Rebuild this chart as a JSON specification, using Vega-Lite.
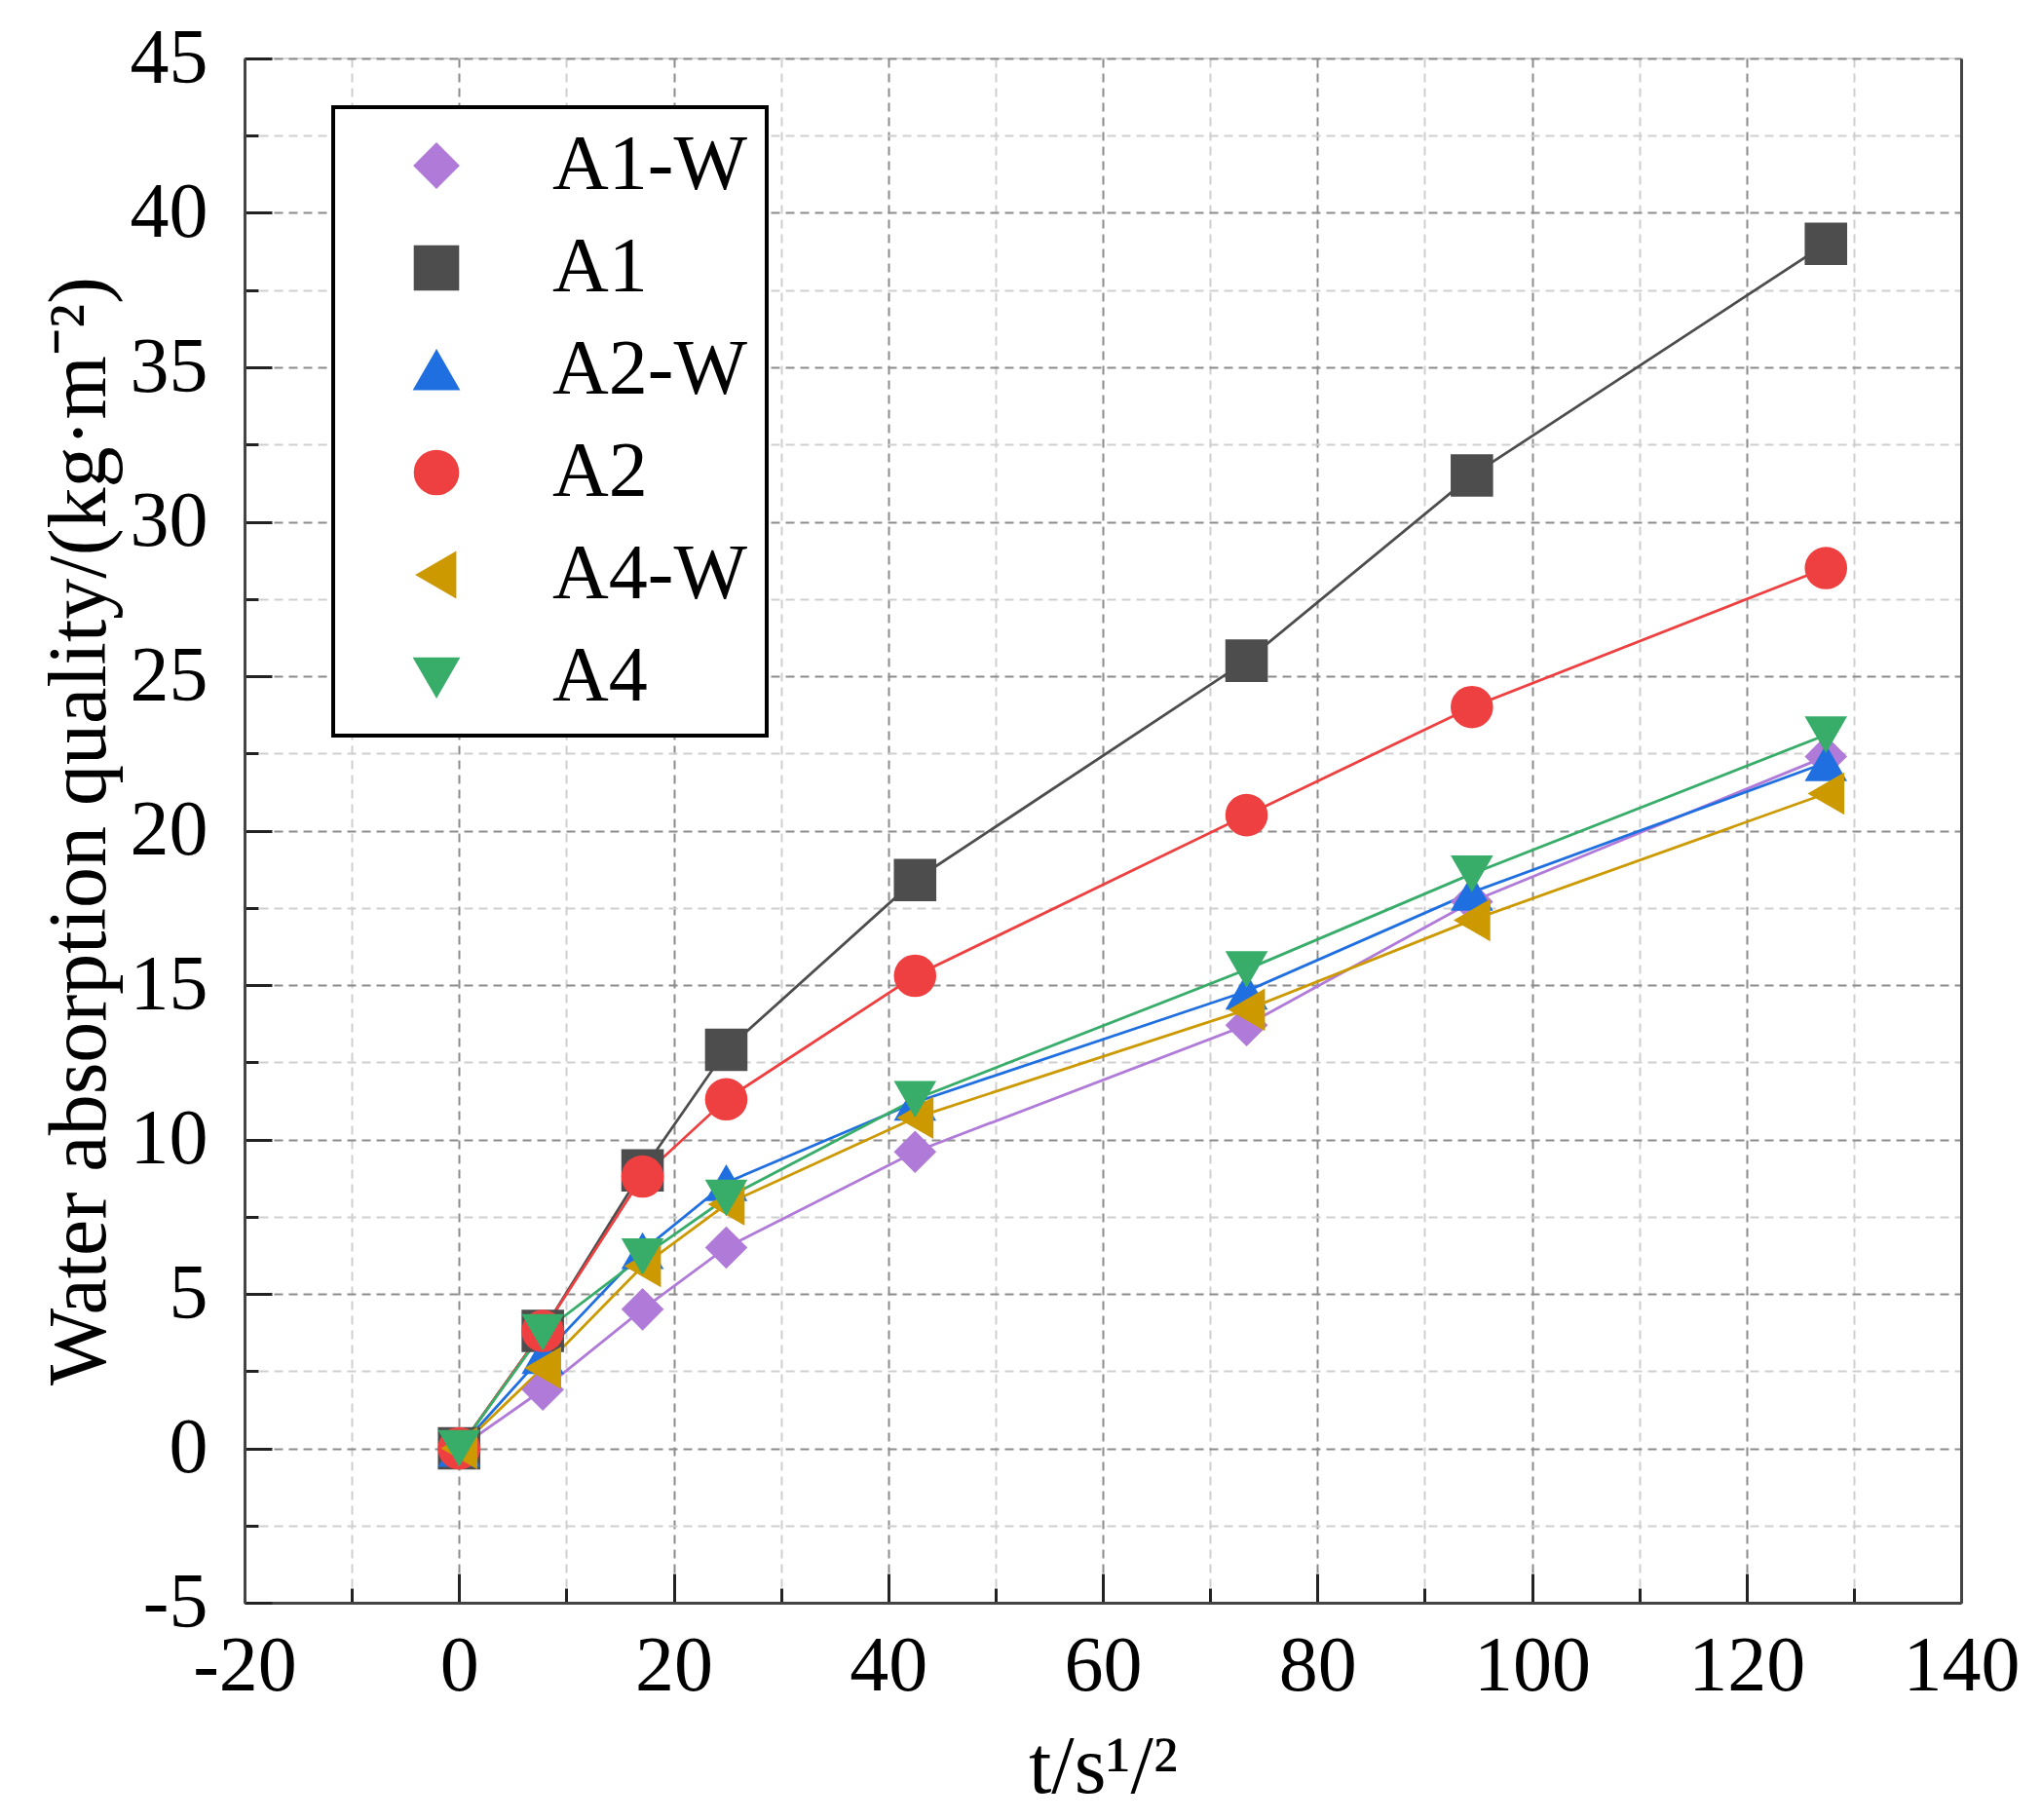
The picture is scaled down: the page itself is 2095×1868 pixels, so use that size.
{
  "$schema": "https://vega.github.io/schema/vega-lite/v6.json",
  "autosize": {"type": "none"},
  "padding": {"left": 251, "top": 60, "right": 82, "bottom": 223},
  "width": 1762,
  "height": 1585,
  "background": "white",
  "config": {
    "view": {"stroke": "#d9d9d9", "strokeWidth": 2},
    "font": "Liberation Serif",
    "axis": {
      "labelFont": "Liberation Serif",
      "labelFontSize": 80,
      "labelColor": "black",
      "titleFont": "Liberation Serif",
      "titleFontSize": 84,
      "titleFontWeight": "normal",
      "titleColor": "black",
      "domainColor": "#444",
      "domainWidth": 3,
      "tickColor": "#222",
      "tickWidth": 3,
      "gridWidth": 2
    },
    "legend": {
      "orient": "none",
      "legendX": 91,
      "legendY": 50,
      "strokeColor": "black",
      "fillColor": "white",
      "padding": 20,
      "symbolSize": 1900,
      "symbolOffset": 46,
      "labelOffset": 79,
      "labelFont": "Liberation Serif",
      "labelFontSize": 80,
      "labelColor": "black",
      "labelLimit": 600,
      "rowPadding": 25,
      "symbolStrokeWidth": 3
    }
  },
  "data": {
    "values": [
      {"series": "A1-W", "t": 0, "q": 0},
      {"series": "A1-W", "t": 7.8, "q": 1.9},
      {"series": "A1-W", "t": 17.1, "q": 4.5},
      {"series": "A1-W", "t": 24.9, "q": 6.5},
      {"series": "A1-W", "t": 42.5, "q": 9.6},
      {"series": "A1-W", "t": 73.4, "q": 13.7},
      {"series": "A1-W", "t": 94.4, "q": 17.7},
      {"series": "A1-W", "t": 127.4, "q": 22.4},
      {"series": "A1", "t": 0, "q": 0},
      {"series": "A1", "t": 7.8, "q": 3.8},
      {"series": "A1", "t": 17.1, "q": 9.0},
      {"series": "A1", "t": 24.9, "q": 12.9},
      {"series": "A1", "t": 42.5, "q": 18.4},
      {"series": "A1", "t": 73.4, "q": 25.5},
      {"series": "A1", "t": 94.4, "q": 31.5},
      {"series": "A1", "t": 127.4, "q": 39.0},
      {"series": "A2-W", "t": 0, "q": 0},
      {"series": "A2-W", "t": 7.8, "q": 3.0},
      {"series": "A2-W", "t": 17.1, "q": 6.4},
      {"series": "A2-W", "t": 24.9, "q": 8.6},
      {"series": "A2-W", "t": 42.5, "q": 11.2},
      {"series": "A2-W", "t": 73.4, "q": 14.8},
      {"series": "A2-W", "t": 94.4, "q": 18.0},
      {"series": "A2-W", "t": 127.4, "q": 22.2},
      {"series": "A2", "t": 0, "q": 0},
      {"series": "A2", "t": 7.8, "q": 3.8},
      {"series": "A2", "t": 17.1, "q": 8.8},
      {"series": "A2", "t": 24.9, "q": 11.3},
      {"series": "A2", "t": 42.5, "q": 15.3},
      {"series": "A2", "t": 73.4, "q": 20.5},
      {"series": "A2", "t": 94.4, "q": 24.0},
      {"series": "A2", "t": 127.4, "q": 28.5},
      {"series": "A4-W", "t": 0, "q": 0},
      {"series": "A4-W", "t": 7.8, "q": 2.6},
      {"series": "A4-W", "t": 17.1, "q": 5.9},
      {"series": "A4-W", "t": 24.9, "q": 7.9},
      {"series": "A4-W", "t": 42.5, "q": 10.7},
      {"series": "A4-W", "t": 73.4, "q": 14.2},
      {"series": "A4-W", "t": 94.4, "q": 17.1},
      {"series": "A4-W", "t": 127.4, "q": 21.2},
      {"series": "A4", "t": 0, "q": 0},
      {"series": "A4", "t": 7.8, "q": 3.75},
      {"series": "A4", "t": 17.1, "q": 6.2},
      {"series": "A4", "t": 24.9, "q": 8.1},
      {"series": "A4", "t": 42.5, "q": 11.3},
      {"series": "A4", "t": 73.4, "q": 15.5},
      {"series": "A4", "t": 94.4, "q": 18.6},
      {"series": "A4", "t": 127.4, "q": 23.1}
    ]
  },
  "encoding": {
    "x": {
      "field": "t",
      "type": "quantitative",
      "scale": {"domain": [-20, 140], "nice": false, "zero": false},
      "axis": {
        "title": "t/s¹/²",
        "values": [-20, -10, 0, 10, 20, 30, 40, 50, 60, 70, 80, 90, 100, 110, 120, 130, 140],
        "labelExpr": "datum.value % 20 === 0 ? '' + datum.value : ''",
        "labelPadding": 56,
        "labelFlush": false,
        "labelOverlap": false,
        "tickSize": {"condition": {"test": "datum.value % 20 === 0", "value": -30}, "value": -15},
        "gridColor": {"condition": {"test": "datum.value % 20 === 0", "value": "#8c8c8c"}, "value": "#cfcfcf"},
        "gridDash": [9, 6],
        "titlePadding": 8
      }
    },
    "color": {
      "field": "series",
      "type": "nominal",
      "scale": {
        "domain": ["A1-W", "A1", "A2-W", "A2", "A4-W", "A4"],
        "range": ["#b07ad9", "#4d4d4d", "#1f6fe0", "#ee4040", "#cc9900", "#38ad6a"]
      },
      "legend": {
        "title": null,
        "encode": {
          "legend": {"update": {"strokeWidth": {"value": 4}}}
        }
      }
    }
  },
  "layer": [
    {
      "mark": {"type": "line", "strokeWidth": 2.8},
      "encoding": {
        "y": {
          "field": "q",
          "type": "quantitative",
          "scale": {"domain": [-5, 45], "nice": false, "zero": false},
          "axis": {
            "title": "Water absorption quality/(kg·m⁻²)",
            "values": [-5, -2.5, 0, 2.5, 5, 7.5, 10, 12.5, 15, 17.5, 20, 22.5, 25, 27.5, 30, 32.5, 35, 37.5, 40, 42.5, 45],
            "labelExpr": "datum.value % 5 === 0 ? '' + datum.value : ''",
            "labelPadding": 66,
            "labelFlush": false,
            "labelOverlap": false,
            "tickSize": {"condition": {"test": "datum.value % 5 === 0", "value": -28}, "value": -14},
            "gridColor": {"condition": {"test": "datum.value % 5 === 0", "value": "#8c8c8c"}, "value": "#cfcfcf"},
            "gridDash": [9, 6],
            "titlePadding": 8
          }
        }
      }
    },
    {
      "mark": {"type": "point", "filled": true, "size": 1900, "opacity": 1},
      "encoding": {
        "y": {
          "field": "q",
          "type": "quantitative",
          "axis": {"orient": "right", "title": null, "labels": false, "ticks": false, "grid": false}
        },
        "shape": {
          "field": "series",
          "type": "nominal",
          "scale": {
            "domain": ["A1-W", "A1", "A2-W", "A2", "A4-W", "A4"],
            "range": ["diamond", "square", "triangle-up", "circle", "triangle-left", "triangle-down"]
          },
          "legend": {
            "title": null,
            "encode": {
              "legend": {"update": {"strokeWidth": {"value": 4}}}
            }
          }
        }
      }
    }
  ],
  "resolve": {"axis": {"y": "independent"}}
}
